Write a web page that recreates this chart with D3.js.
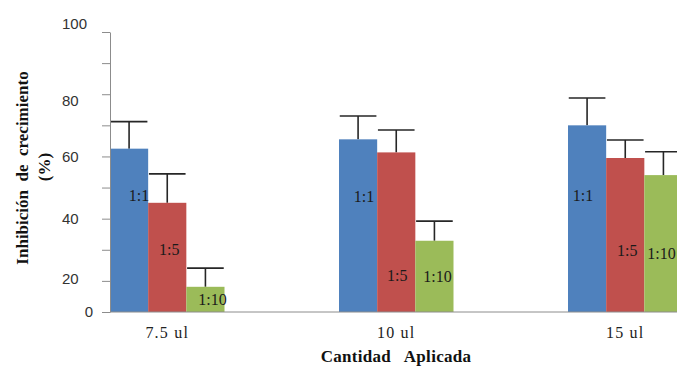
<!DOCTYPE html>
<html>
<head>
<meta charset="utf-8">
<script src="https://cdn.jsdelivr.net/npm/d3@7"></script>
<style>
  html, body { margin: 0; padding: 0; background: #fff; }
  svg { display: block; }
  text { white-space: pre; }
</style>
</head>
<body>
<svg id="chart" width="677" height="366"></svg>
<script>
// ---- data ----
const categories = ["7.5 ul", "10 ul", "15 ul"];
const series = ["1:1", "1:5", "1:10"];
const values_1_1 = [62.5, 65.5, 70.0];
const values_1_5 = [45.1, 61.3, 59.5];
const values_1_10 = [18.1, 32.9, 54.0];
const errors_1_1 = [8.7, 7.5, 8.8];
const errors_1_5 = [9.3, 7.2, 5.8];
const errors_1_10 = [6.0, 6.3, 7.5];
const yTickValues = [10, 20, 30, 40, 50, 60, 70, 80, 90, 100];
const yTickLabels = ["0", "20", "", "40", "", "60", "", "80", "", "100"];
const xTitle = "Cantidad   Aplicada";
const yTitleLines = ["Inhibición  de  crecimiento", "(%)"];

// ---- layout / style ----
const colors = ["#4F81BD", "#C0504D", "#9BBB59"];
const seriesValues = [values_1_1, values_1_5, values_1_10];
const seriesErrors = [errors_1_1, errors_1_5, errors_1_10];
// label placement inside bars: [dx from bar centre (px), level in axis units]
const labelPlacement = [
  [[10, 47.6], [6, 47.1], [-4, 47.4]],
  [[2, 30.2], [1, 21.9], [2, 29.9]],
  [[7, 14.1], [3, 21.6], [-2, 28.9]]
];

const svg = d3.select("#chart");
const y = d3.scaleLinear().domain([10, 100]).range([312, 32]);
const x0 = d3.scaleBand().domain(categories).range([110, 682.5]).paddingInner(0.5).paddingOuter(0);
const x1 = d3.scaleBand().domain(series).range([0, x0.bandwidth()]).padding(0);

const rows = [];
categories.forEach((c, ci) => {
  series.forEach((s, si) => {
    rows.push({c, s, ci, si, v: seriesValues[si][ci], e: seriesErrors[si][ci]});
  });
});

// error bars (drawn first so bars sit on top)
const eb = svg.append("g").attr("stroke", "#262626").attr("stroke-width", 1.6).attr("fill", "none");
rows.forEach(r => {
  const cx = x0(r.c) + x1(r.s) + x1.bandwidth() / 2;
  const capW = x1.bandwidth() * 0.96;
  eb.append("line").attr("x1", cx).attr("x2", cx).attr("y1", y(r.v)).attr("y2", y(r.v + r.e));
  eb.append("line").attr("x1", cx - capW / 2).attr("x2", cx + capW / 2).attr("y1", y(r.v + r.e)).attr("y2", y(r.v + r.e));
});

// bars
svg.append("g").selectAll("rect").data(rows).join("rect")
  .attr("x", d => x0(d.c) + x1(d.s))
  .attr("y", d => y(d.v))
  .attr("width", x1.bandwidth())
  .attr("height", d => y(10) - y(d.v))
  .attr("fill", d => colors[d.si]);

// labels inside bars
svg.append("g").selectAll("text").data(rows).join("text")
  .attr("x", d => x0(d.c) + x1(d.s) + x1.bandwidth() / 2 + labelPlacement[d.si][d.ci][0])
  .attr("y", d => y(labelPlacement[d.si][d.ci][1]))
  .attr("dy", "0.35em")
  .attr("text-anchor", "middle")
  .attr("font-family", "'Liberation Serif', 'Times New Roman', serif")
  .attr("font-size", 16)
  .attr("fill", "#1a1a1a")
  .text(d => d.s);

// y axis
const yAxis = svg.append("g").attr("transform", "translate(110,0)")
  .call(d3.axisLeft(y).tickValues(yTickValues).tickSize(8).tickSizeOuter(0)
    .tickFormat((d, i) => yTickLabels[i]));
yAxis.select(".domain").attr("stroke", "#8c8c8c");
yAxis.selectAll(".tick line").attr("stroke", "#8c8c8c");
const yNudge = {100: -8, 80: 6, 20: -2};
yAxis.selectAll(".tick text")
  .attr("font-family", "'Liberation Sans', Arial, sans-serif")
  .attr("font-size", 15)
  .attr("fill", "#333")
  .attr("text-anchor", d => d === 10 ? "end" : "start")
  .attr("x", d => d === 10 ? -17 : -48)
  .attr("y", d => yNudge[d] || 0);

// x axis line
svg.append("line").attr("x1", 110).attr("x2", 677).attr("y1", y(10)).attr("y2", y(10))
  .attr("stroke", "#8c8c8c").attr("stroke-width", 1);

// x category labels
svg.append("g").selectAll("text").data(categories).join("text")
  .attr("x", d => x0(d) + x0.bandwidth() / 2)
  .attr("y", 338)
  .attr("text-anchor", "middle")
  .attr("font-family", "'Liberation Serif', 'Times New Roman', serif")
  .attr("font-size", 16)
  .attr("letter-spacing", 1.2)
  .attr("fill", "#222")
  .text(d => d);

// x title
svg.append("text")
  .attr("x", 396).attr("y", 362)
  .attr("text-anchor", "middle")
  .attr("font-family", "'Liberation Serif', 'Times New Roman', serif")
  .attr("font-weight", "bold")
  .attr("font-size", 17)
  .attr("letter-spacing", 0.3)
  .attr("fill", "#111")
  .text(xTitle);

// y title
const yt = svg.append("g").attr("font-family", "'Liberation Serif', 'Times New Roman', serif")
  .attr("font-weight", "bold").attr("font-size", 17).attr("fill", "#111");
yt.append("text").attr("transform", "translate(28,168) rotate(-90)")
  .attr("text-anchor", "middle").text(yTitleLines[0]);
yt.append("text").attr("transform", "translate(50,167) rotate(-90)")
  .attr("text-anchor", "middle").text(yTitleLines[1]);
</script>
</body>
</html>
